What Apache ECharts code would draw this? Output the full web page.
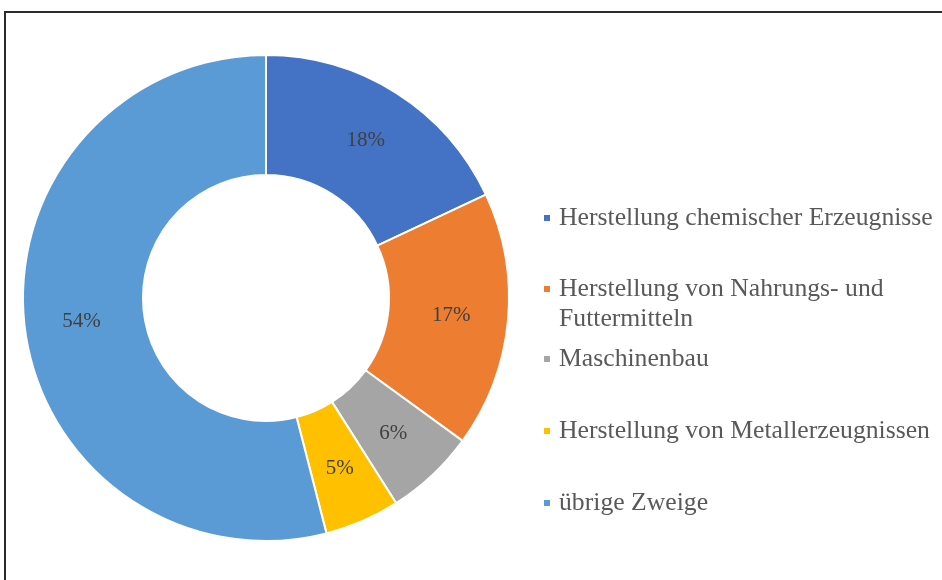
<!DOCTYPE html>
<html lang="de">
<head>
    <meta charset="utf-8">
    <title>Anteile nach Wirtschaftszweigen</title>
    <script src="https://cdn.jsdelivr.net/npm/echarts@6/dist/echarts.min.js"></script>
    <style>
        html, body { margin: 0; padding: 0; background: #fff; overflow: hidden; }
        #main { width: 942px; height: 580px; }
        /* Rahmen um das Diagramm */
        #frame {
            position: absolute; left: 4px; top: 11px;
            width: 960px; height: 600px;
            border: 2px solid #2a2a2a; pointer-events: none;
        }
    </style>
</head>
<body>
    <div id="main"></div>
    <div id="frame"></div>
    <script type="text/javascript">
        // Daten
        var zweige = [
            'Herstellung chemischer Erzeugnisse',
            'Herstellung von Nahrungs- und\nFuttermitteln',
            'Maschinenbau',
            'Herstellung von Metallerzeugnissen',
            'übrige Zweige'
        ];
        var anteile = [18, 17, 6, 5, 54];
        var farben = ['#4472C4', '#ED7D31', '#A5A5A5', '#FFC000', '#5B9BD5'];

        var serif = '"Liberation Serif", "Times New Roman", serif';

        // je Eintrag eine eigene Legende, damit die Abstände wie im Original sind
        var legendTops = [204, 244, 345, 417, 489];
        var legends = zweige.map(function (name, i) {
            var zweizeilig = name.indexOf('\n') >= 0;
            return {
                data: [name],
                left: 542,
                top: legendTops[i],
                orient: 'vertical',
                padding: 0,
                itemWidth: 8,
                itemHeight: 8,
                icon: 'rect',
                selectedMode: false,
                // Leerzeile davor, damit das Symbol auf Höhe der ersten Zeile steht
                formatter: function (n) {
                    return zweizeilig ? ' \n' + n : n;
                },
                textStyle: {
                    fontFamily: serif,
                    fontSize: 25.7,
                    color: '#595959',
                    lineHeight: zweizeilig ? 30 : 28,
                    padding: [0, 0, 0, 3]
                }
            };
        });

        var myChart = echarts.init(document.getElementById('main'));
        var option = {
            animation: false,
            color: farben,
            legend: legends,
            series: [
                {
                    type: 'pie',
                    center: [266, 298],
                    radius: [123, 243],
                    startAngle: 90,
                    clockwise: true,
                    avoidLabelOverlap: false,
                    itemStyle: {
                        borderColor: '#fff',
                        borderWidth: 2
                    },
                    label: {
                        position: 'inside',
                        formatter: '{c}%',
                        fontFamily: serif,
                        fontSize: 21,
                        color: '#404040'
                    },
                    labelLine: { show: false },
                    emphasis: { disabled: true },
                    data: zweige.map(function (n, i) {
                        return { name: n, value: anteile[i] };
                    })
                }
            ]
        };
        myChart.setOption(option);
    </script>
</body>
</html>
